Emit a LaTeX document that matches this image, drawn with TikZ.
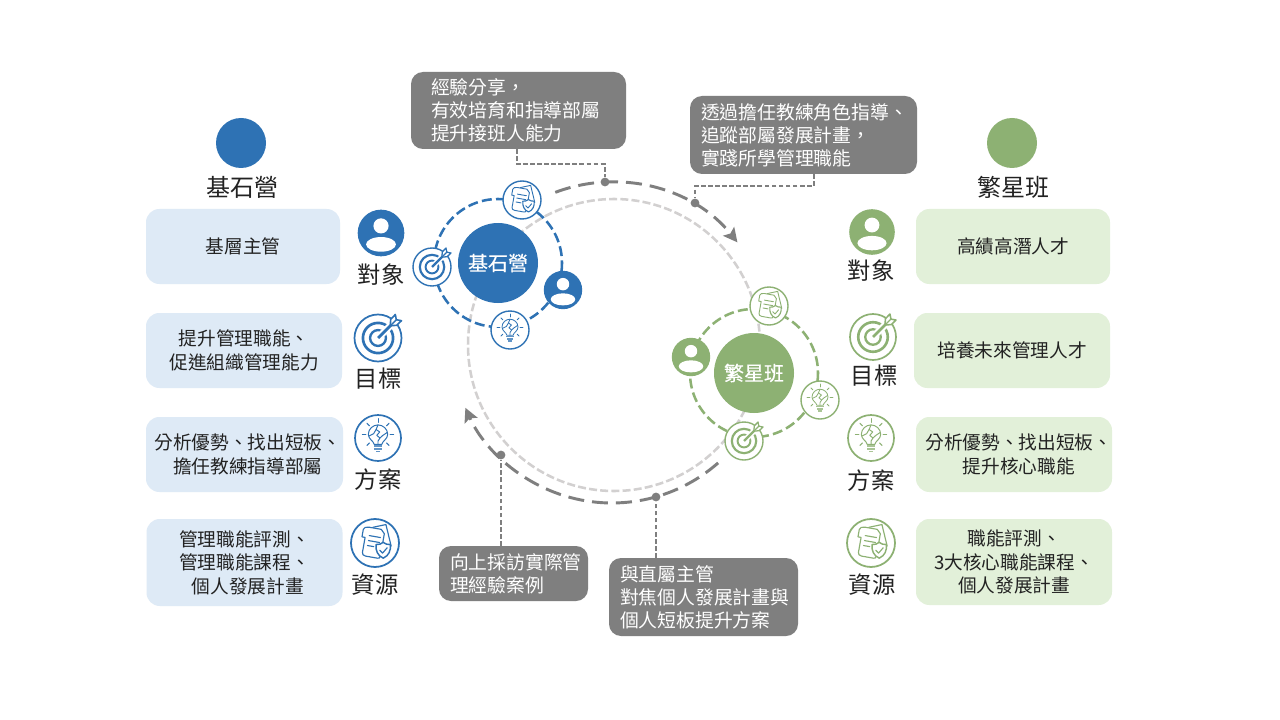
\documentclass[tikz,border=0pt]{standalone}
\usepackage{fontspec}
\setmainfont{Noto Sans CJK TC}
\usetikzlibrary{arrows.meta,calc}
\definecolor{blueC}{HTML}{2E72B4}
\definecolor{greenC}{HTML}{8DB173}
\definecolor{blueL}{HTML}{DEEAF6}
\definecolor{greenL}{HTML}{E2F0D9}
\definecolor{tagC}{HTML}{7F7F7F}
\definecolor{hoopC}{HTML}{D2D0D0}
\definecolor{inkC}{HTML}{222222}
\tikzset{
  badge/.style 2 args={circle,draw=#1,fill=white,line width=#2*0.055pt,minimum size=#2*1.5pt,inner sep=0pt},
  hub/.style={circle,fill=#1,minimum size=60pt,inner sep=0pt,text=white,font=\fontsize{15}{17}\selectfont\addfontfeature{FakeBold=0.4}},
  legenddot/.style={circle,fill=#1,minimum size=37.5pt,inner sep=0pt},
  heading/.style={text=inkC,inner sep=0pt,font=\fontsize{18}{20}\selectfont},
  caption/.style={text=inkC,inner sep=0pt,font=\fontsize{17.5}{20}\selectfont},
  panel/.style={rounded corners=10pt,fill=#1,inner sep=0pt,align=center,text=inkC,font=\fontsize{14}{17.6}\selectfont},
  tag/.style={rounded corners=9pt,fill=tagC,text=white,inner xsep=0pt,inner ysep=0pt,align=left,font=\fontsize{14.1}{17.2}\selectfont,execute at begin node={\leftskip=#1\relax}},
  orbit/.style={draw=#1,line width=1.9pt,dash pattern=on 7.5pt off 3.2pt},
  hoop/.style={draw=hoopC,line width=1.9pt,dash pattern=on 6pt off 2.4pt},
  sweep/.style={draw=tagC,line width=2.2pt,dash pattern=on 12pt off 6pt},
  leader/.style={draw=tagC,line width=1.3pt,dash pattern=on 3.5pt off 1.8pt},
  knot/.style={circle,fill=tagC,minimum size=6.6pt,inner sep=0pt},
  pics/personglyph/.style 2 args={code={
    \begin{scope}[scale=#2/19]
      \fill[#1] (0,0) circle (19);
      \fill[white] (0,-6) circle (6.4);
      \fill[white] (0,9.6) ellipse (12.6 and 6.2);
    \end{scope}}},
  pics/targetglyph/.style 2 args={code={
    \begin{scope}[scale=#2/19]
      \draw[#1,line width=#2*0.085pt] (0,0) circle (12.2);
      \draw[#1,line width=#2*0.075pt] (0,0) circle (6.4);
      \draw[white,line width=#2*0.22pt] (1,-1) -- (18,-18);
      \draw[#1,line width=#2*0.09pt] (0,0) -- (11,-11);
      \filldraw[#1,fill=white,line width=#2*0.05pt,line join=round]
        (10,-10) -- (10.2,-15) -- (14,-19) -- (14.8,-14.8) -- (19,-14) -- (15,-10.2) -- cycle;
      \draw[#1,line width=#2*0.045pt] (10,-10) -- (14.8,-14.8);
    \end{scope}}},
  pics/bulbglyph/.style 2 args={code={
    \begin{scope}[scale=#2/19,#1,line width=#2*0.032pt,line cap=round,line join=round]
      \draw (-3.2,5.2) .. controls (-3.6,2.4) and (-8,1) .. (-8,-3)
        .. controls (-8,-7.6) and (-4,-10.8) .. (0,-10.8)
        .. controls (4,-10.8) and (8,-7.6) .. (8,-3)
        .. controls (8,1) and (3.6,2.4) .. (3.2,5.2) -- cycle;
      \fill[#1!75!white] (-3.6,6) rectangle (3.6,7.4);
      \fill[#1!75!white] (-3.2,8.2) rectangle (3.2,9.6);
      \fill[#1!75!white] (-2,10.4) rectangle (2,11.6);
      \draw (0,-10.8) -- (-1.6,-7) -- (1.4,-5) -- (-1,-2.2) -- (1.6,0) -- (0,2.6) -- (0,5.2);
      \draw (-7.6,-1.6) -- (-3.6,-3.6) -- (-1.6,-7);
      \draw (7.6,-4.6) -- (3.8,-2) -- (1.6,0);
      \foreach \a in {-90,-45,0,45,135,180,225}
        \draw (0,-3) ++(\a:10) -- ++(\a:3);
    \end{scope}}},
  pics/docglyph/.style 2 args={code={
    \begin{scope}[scale=#2/19,#1,line width=#2*0.036pt,line join=round,line cap=round]
      \begin{scope}[rotate=12]
        \filldraw[fill=white] (1,-12.5) -- (11.5,-12.5) -- (12,5) -- (1,5) -- cycle;
      \end{scope}
      \begin{scope}[rotate=-10]
        \filldraw[fill=white] (-7,-11.5) -- (3,-11.5) -- (6,-8.5) -- (6,9.5)
          .. controls (6,11) and (5,11.5) .. (4,11.5) -- (-5.5,11.5)
          .. controls (-7.5,11.5) and (-8.5,10.5) .. (-8.5,9) -- (-8.5,-3) -- (-11,-3) -- (-11,-9)
          .. controls (-11,-10.5) and (-9,-11.5) .. (-7,-11.5);
        \draw (-5.5,-5) -- (3.5,-5);
        \draw (-5.5,-1) -- (3.5,-1);
        \draw (-5.5,3) -- (-0.5,3);
      \end{scope}
      \filldraw[fill=white,line width=#2*0.045pt] (6.5,-0.5) .. controls (8,1) and (10,1.2) .. (12.2,1.2)
        .. controls (12.6,6) and (11,10) .. (6.5,12)
        .. controls (2,10) and (0.4,6) .. (0.8,1.2)
        .. controls (3,1.2) and (5,1) .. (6.5,-0.5) -- cycle;
      \draw (3.8,5.8) -- (6,8) -- (9.6,3.8);
    \end{scope}}}
}
% a ringed badge with a glyph: name, centre, glyph, colour, radius in px
\newcommand\badgeat[5]{%
  \node[badge={#4}{#5}] (#1) at (#2) {};
  \pic at (#1) {#3={#4}{#5}};}
\begin{document}
\begin{tikzpicture}[x=0.75pt,y=-0.75pt]
\useasboundingbox (0,0) rectangle (1280,720);
\fill[white] (0,0) rectangle (1280,720);

% large circle shared by both programmes
\coordinate (hoopCentre) at (614,345);
\draw[hoop] (hoopCentre) circle (146);

% sweeping arrows around it
\coordinate (sweepCentre) at (612,342.5);
\draw[sweep,-{Stealth[length=10.5pt,width=10.5pt,inset=2pt]}] (sweepCentre) ++(-110.7:160.5) arc[start angle=-110.7,end angle=-38.6,radius=160.5];
\draw[sweep,-{Stealth[length=10.5pt,width=10.5pt,inset=2pt]}] (sweepCentre) ++(48.6:160.5) arc[start angle=48.6,end angle=156,radius=160.5];

% grey call-outs
\node[tag=15pt,text width=161.25pt,minimum height=57.75pt] (noteA) at (518.5,110.5) {經驗分享，\\有效培育和指導部屬\\提升接班人能力};
\node[tag=8.25pt,text width=170.25pt,minimum height=58.5pt] (noteB) at (803.5,135) {透過擔任教練角色指導、\\追蹤部屬發展計畫，\\實踐所學管理職能};
\node[tag=8.25pt,text width=111.75pt,minimum height=41.25pt] (noteC) at (513.5,573.5) {向上採訪實際管\\理經驗案例};
\node[tag=8.25pt,text width=141.75pt,minimum height=58.5pt] (noteD) at (703.5,597) {與直屬主管\\對焦個人發展計畫與\\個人短板提升方案};

\node[knot] (knotA) at (605,182) {};
\node[knot] (knotB) at (695,203) {};
\node[knot] (knotC) at (501,455) {};
\node[knot] (knotD) at (656,497) {};
\draw[leader] ($(noteA.south west)+(106,0)$) -- ++(0,15) -| (knotA);
\draw[leader] ($(noteB.south west)+(124,0)$) -- ++(0,12) -| (knotB);
\draw[leader] (knotC |- noteC.north) -- (knotC);
\draw[leader] (knotD |- noteD.north) -- (knotD);

% blue programme cluster
\coordinate (blueCentre) at (498,263);
\draw[orbit=blueC] (blueCentre) circle (64);
\node[hub=blueC] (blueHub) at (blueCentre) {基石營};
\badgeat{blueRingDoc}{522,200}{docglyph}{blueC}{19}
\badgeat{blueRingPerson}{563,290}{personglyph}{blueC}{18.5}
\badgeat{blueRingBulb}{510,330}{bulbglyph}{blueC}{19}
\badgeat{blueRingTarget}{432,267}{targetglyph}{blueC}{19}

% green programme cluster
\coordinate (greenCentre) at (754,373);
\draw[orbit=greenC] (greenCentre) circle (64);
\node[hub=greenC] (greenHub) at (greenCentre) {繁星班};
\badgeat{greenRingDoc}{769,306}{docglyph}{greenC}{19}
\badgeat{greenRingPerson}{691,357}{personglyph}{greenC}{18.5}
\badgeat{greenRingBulb}{820,400}{bulbglyph}{greenC}{19}
\badgeat{greenRingTarget}{744,441}{targetglyph}{greenC}{19}

% left column
\node[legenddot=blueC] (blueDot) at (241,143) {};
\node[heading] (blueTitle) at (242,187) {基石營};
\node[panel=blueL,minimum width=145.5pt,minimum height=56.25pt] (blueA) at (243,246.5) {基層主管};
\node[panel=blueL,minimum width=147pt,minimum height=56.25pt] (blueB) at (244,350.5) {提升管理職能、\\促進組織管理能力};
\node[panel=blueL,minimum width=147.75pt,minimum height=56.25pt] (blueC1) at (244.5,454.5) {\hspace*{5pt}分析優勢、找出短板、\\\hspace*{5pt}擔任教練指導部屬};
\node[panel=blueL,minimum width=147pt,minimum height=65.25pt] (blueD) at (244.5,562.5) {管理職能評測、\\管理職能課程、\\\hspace*{5pt}個人發展計畫};

\badgeat{blueIconA}{381,233}{personglyph}{blueC}{22.5}
\node[caption] (blueCapA) at (381,275) {對象};
\badgeat{blueIconB}{378,338}{targetglyph}{blueC}{23.5}
\node[caption] (blueCapB) at (378,379) {目標};
\badgeat{blueIconC}{378,438}{bulbglyph}{blueC}{23}
\node[caption] (blueCapC) at (378,480) {方案};
\badgeat{blueIconD}{375,543}{docglyph}{blueC}{24}
\node[caption] (blueCapD) at (375,585) {資源};

% right column
\node[legenddot=greenC] (greenDot) at (1012,143) {};
\node[heading] (greenTitle) at (1013,187) {繁星班};
\node[panel=greenL,minimum width=145.5pt,minimum height=56.25pt] (greenA) at (1013,246.5) {高績高潛人才};
\node[panel=greenL,minimum width=147pt,minimum height=56.25pt] (greenB) at (1012,350.5) {培養未來管理人才};
\node[panel=greenL,minimum width=147pt,minimum height=56.25pt] (greenC1) at (1014,454.5) {\hspace*{7pt}分析優勢、找出短板、\\\hspace*{7pt}提升核心職能};
\node[panel=greenL,minimum width=147pt,minimum height=64.5pt] (greenD) at (1014,562) {職能評測、\\3大核心職能課程、\\個人發展計畫};

\badgeat{greenIconA}{872,232}{personglyph}{greenC}{22}
\node[caption] (greenCapA) at (871,271) {對象};
\badgeat{greenIconB}{873,337}{targetglyph}{greenC}{23}
\node[caption] (greenCapB) at (874,376) {目標};
\badgeat{greenIconC}{871,438}{bulbglyph}{greenC}{23}
\node[caption] (greenCapC) at (871,481) {方案};
\badgeat{greenIconD}{871,543}{docglyph}{greenC}{24}
\node[caption] (greenCapD) at (872,585) {資源};
\end{tikzpicture}
\end{document}
